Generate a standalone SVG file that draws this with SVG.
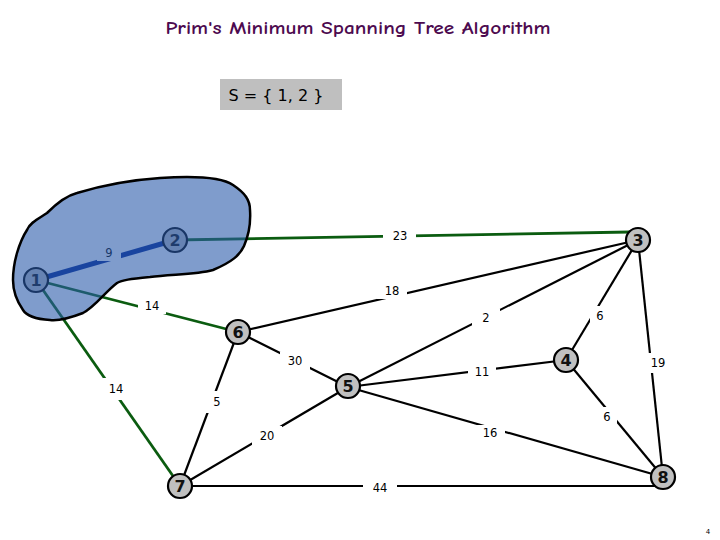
<svg xmlns="http://www.w3.org/2000/svg" width="720" height="540" viewBox="0 0 720 540">
<style>
.e{stroke:#000;stroke-width:2.2;fill:none}
.g{stroke:#0b5c10;stroke-width:2.8;fill:none}
.b{stroke:#002590;stroke-width:5;fill:none}
.gap{fill:#fff}
.lbl{font-family:"DejaVu Sans","Liberation Sans",sans-serif;font-size:11.5px;fill:#000;text-anchor:middle;dominant-baseline:central}
.node circle{fill:#c0c0c0;stroke:#000;stroke-width:2.2}
.node text{font-family:"DejaVu Sans","Liberation Sans",sans-serif;font-size:16px;font-weight:bold;fill:#111;text-anchor:middle;dominant-baseline:central}
.title{font-family:"Comic Neue","DejaVu Sans",sans-serif;font-size:19px;font-weight:bold;fill:#4d0a4f;text-anchor:middle}
</style>
<rect width="720" height="540" fill="#fff"/>
<text class="title" x="358" y="34" textLength="385" lengthAdjust="spacingAndGlyphs">Prim's Minimum Spanning Tree Algorithm</text>
<rect x="220" y="79" width="122" height="31" fill="#bfbfbf"/>
<text x="276" y="101" font-family="DejaVu Sans, sans-serif" font-size="16" text-anchor="middle" fill="#000">S = { 1, 2 }</text>

<g id="connectors">
<line class="b" x1="36" y1="280" x2="175" y2="240"/>
<line class="g" x1="175" y1="240" x2="630" y2="232"/>
<line class="g" x1="36" y1="280" x2="238" y2="332"/>
<line class="g" x1="36" y1="280" x2="180" y2="486"/>
<line class="e" x1="638" y1="240" x2="238" y2="332"/>
<line class="e" x1="638" y1="240" x2="348" y2="387"/>
<line class="e" x1="638" y1="240" x2="566" y2="360"/>
<line class="e" x1="638" y1="240" x2="663" y2="477"/>
<line class="e" x1="238" y1="332" x2="348" y2="387"/>
<line class="e" x1="238" y1="332" x2="180" y2="486"/>
<line class="e" x1="348" y1="387" x2="566" y2="360"/>
<line class="e" x1="348" y1="387" x2="663" y2="477"/>
<line class="e" x1="566" y1="360" x2="663" y2="477"/>
<line class="e" x1="180" y1="486" x2="348" y2="387"/>
<line class="e" x1="180" y1="486" x2="655" y2="486"/>
<g id="labels">
<rect class="gap" x="97" y="245" width="24" height="16"/><text class="lbl" x="109" y="253">9</text>
<rect class="gap" x="138" y="298" width="28" height="16"/><text class="lbl" x="152" y="306">14</text>
<rect class="gap" x="383" y="228" width="33" height="16"/><text class="lbl" x="400" y="236">23</text>
<rect class="gap" x="377" y="282" width="30" height="17"/><text class="lbl" x="392" y="291">18</text>
<rect class="gap" x="472" y="309" width="28" height="18"/><text class="lbl" x="486" y="318">2</text>
<rect class="gap" x="590" y="306" width="20" height="20"/><text class="lbl" x="600" y="316">6</text>
<rect class="gap" x="646" y="353" width="24" height="20"/><text class="lbl" x="658" y="363">19</text>
<rect class="gap" x="468" y="364" width="28" height="16"/><text class="lbl" x="482" y="372">11</text>
<rect class="gap" x="103" y="378" width="26" height="22"/><text class="lbl" x="116" y="389">14</text>
<rect class="gap" x="206" y="391" width="22" height="22"/><text class="lbl" x="217" y="402">5</text>
<rect class="gap" x="280" y="352" width="30" height="18"/><text class="lbl" x="295" y="361">30</text>
<rect class="gap" x="252" y="426" width="30" height="20"/><text class="lbl" x="267" y="436">20</text>
<rect class="gap" x="475" y="425" width="30" height="17"/><text class="lbl" x="490" y="433">16</text>
<rect class="gap" x="597" y="407" width="20" height="20"/><text class="lbl" x="607" y="417">6</text>
<rect class="gap" x="363" y="479" width="34" height="16"/><text class="lbl" x="380" y="488">44</text>
</g>
</g>

<g id="node1" class="node"><circle cx="36" cy="280" r="12"/><text x="36" y="280">1</text></g>
<g id="node2" class="node"><circle cx="175" cy="240" r="12"/><text x="175" y="240">2</text></g>
<g id="node3" class="node"><circle cx="638" cy="240" r="12"/><text x="638" y="240">3</text></g>
<g id="node4" class="node"><circle cx="566" cy="360" r="12"/><text x="566" y="360">4</text></g>
<g id="node5" class="node"><circle cx="348" cy="386" r="12"/><text x="348" y="386">5</text></g>
<g id="node6" class="node"><circle cx="238" cy="332" r="12"/><text x="238" y="332">6</text></g>
<g id="node7" class="node"><circle cx="180" cy="486" r="12"/><text x="180" y="486">7</text></g>
<g id="node8" class="node"><circle cx="663" cy="477" r="12"/><text x="663" y="477">8</text></g>

<g id="set-S">
<path d="M27,230 C30,222 40,218 47,213 C55,205 65,196 77,193 C100,186 130,180 160,178 C190,176 220,176 233,185 C245,193 250,200 250,210 C251,225 248,237 244,246 C240,255 232,262 213,270 C195,275 170,274 150,277 C130,279 122,280 117,283 C105,292 95,307 83,313 C70,318 58,321 50,320 C35,319 26,315 23,310 C16,300 13,290 13,280 C13,270 15,260 17,253 C20,243 23,236 27,230 Z" fill="#2a5aaa" fill-opacity="0.6" stroke="#000" stroke-width="2.5"/>
</g>
<text x="708" y="534" font-family="DejaVu Sans, sans-serif" font-size="7" fill="#000" text-anchor="middle">4</text>
</svg>
